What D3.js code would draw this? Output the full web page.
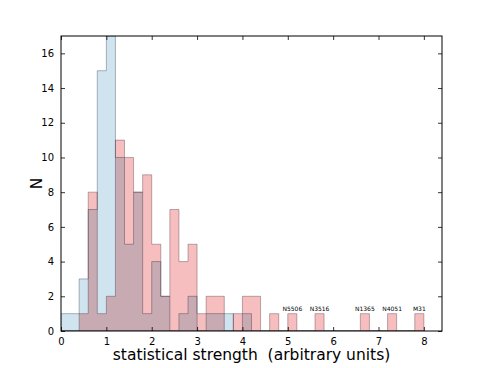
<!DOCTYPE html>
<html>
<head>
<meta charset="utf-8">
<script src="https://cdn.jsdelivr.net/npm/d3@7"></script>
<style>
    body { margin: 0; background: #fff; }
    svg { display: block; font-family: 'DejaVu Sans', sans-serif; }
</style>
</head>
<body>
<div id="container"></div>
<script>
// histogram bins (left edges, width 0.2)
const binStarts = [0.0, 0.2, 0.4, 0.6, 0.8, 1.0, 1.2, 1.4, 1.6, 1.8,
                   2.0, 2.2, 2.4, 2.6, 2.8, 3.0, 3.2, 3.4, 3.6, 3.8,
                   4.0, 4.2, 4.4, 4.6, 4.8, 5.0, 5.2, 5.4, 5.6, 5.8,
                   6.0, 6.2, 6.4, 6.6, 6.8, 7.0, 7.2, 7.4, 7.6, 7.8];
const binWidth = 0.2;
const blueCounts = [1, 1, 3, 7, 15, 17, 10, 5, 8, 1,
                    4, 2, 0, 1, 2, 0, 1, 1, 1, 0,
                    1, 0, 0, 0, 0, 0, 0, 0, 0, 0,
                    0, 0, 0, 0, 0, 0, 0, 0, 0, 0];
const redCounts = [0, 0, 1, 8, 1, 2, 11, 10, 8, 9,
                   5, 2, 7, 4, 5, 1, 2, 2, 0, 1,
                   2, 2, 0, 1, 0, 1, 0, 0, 1, 0,
                   0, 0, 0, 1, 0, 0, 1, 0, 0, 1];
const labelNames = ['N5506', 'N3516', 'N1365', 'N4051', 'M31'];
const labelBins = [5.0, 5.6, 6.6, 7.2, 7.8];
const xTicks = [0, 1, 2, 3, 4, 5, 6, 7, 8];
const yTicks = [0, 2, 4, 6, 8, 10, 12, 14, 16];

const width = 491, height = 368;
const margin = { top: 36, right: 49, bottom: 37, left: 61 };

const svg = d3.select('#container').append('svg')
    .attr('width', width)
    .attr('height', height);

const xScale = d3.scaleLinear()
    .domain([0, 8.4])
    .range([margin.left, width - margin.right]);
const yScale = d3.scaleLinear()
    .domain([0, 17])
    .range([height - margin.bottom, margin.top]);

svg.append('clipPath')
    .attr('id', 'clip')
    .append('rect')
    .attr('x', margin.left)
    .attr('y', margin.top)
    .attr('width', width - margin.left - margin.right)
    .attr('height', height - margin.top - margin.bottom);

const stepData = (counts) => {
    const pts = binStarts.map((s, i) => ({ x: s, y: counts[i] }));
    pts.push({ x: binStarts[binStarts.length - 1] + binWidth, y: counts[counts.length - 1] });
    return pts;
};

const area = d3.area()
    .curve(d3.curveStepAfter)
    .x(d => xScale(d.x))
    .y0(yScale(0))
    .y1(d => yScale(d.y));

const plot = svg.append('g').attr('clip-path', 'url(#clip)');

plot.append('path')
    .datum(stepData(blueCounts))
    .attr('d', area)
    .attr('fill', '#d0e4f0')
    .attr('stroke', 'rgba(60,70,90,0.4)')
    .attr('stroke-width', 1);

plot.append('path')
    .datum(stepData(redCounts))
    .attr('d', area)
    .attr('fill', '#f6bebe')
    .attr('stroke', 'rgba(90,60,70,0.4)')
    .attr('stroke-width', 1)
    .style('mix-blend-mode', 'multiply');

// source labels
svg.append('g').selectAll('text')
    .data(labelNames)
    .enter().append('text')
    .attr('x', (d, i) => xScale(labelBins[i] + binWidth / 2))
    .attr('y', (d, i) => yScale(redCounts[binStarts.indexOf(labelBins[i])]) - 3)
    .attr('text-anchor', 'middle')
    .attr('font-size', '6px')
    .text(d => d);

// axes with inward ticks on all sides
const tickLen = 4;
const xAxis = d3.axisBottom(xScale).tickValues(xTicks).tickSizeInner(-tickLen).tickSizeOuter(0).tickPadding(tickLen + 3);
const yAxis = d3.axisLeft(yScale).tickValues(yTicks).tickSizeInner(-tickLen).tickSizeOuter(0).tickPadding(tickLen + 3);
const xAxisTop = d3.axisTop(xScale).tickValues(xTicks).tickSizeInner(-tickLen).tickSizeOuter(0).tickFormat('');
const yAxisRight = d3.axisRight(yScale).tickValues(yTicks).tickSizeInner(-tickLen).tickSizeOuter(0).tickFormat('');

const gx = svg.append('g')
    .attr('transform', 'translate(0,' + (height - margin.bottom) + ')')
    .call(xAxis);
const gy = svg.append('g')
    .attr('transform', 'translate(' + margin.left + ',0)')
    .call(yAxis);
const gxt = svg.append('g')
    .attr('transform', 'translate(0,' + margin.top + ')')
    .call(xAxisTop);
const gyr = svg.append('g')
    .attr('transform', 'translate(' + (width - margin.right) + ',0)')
    .call(yAxisRight);

[gx, gy, gxt, gyr].forEach(g => {
    g.select('.domain').remove();
    g.selectAll('.tick line').attr('stroke', '#000').attr('stroke-width', 0.8);
    g.selectAll('.tick text').attr('font-size', '10px').attr('font-family', 'DejaVu Sans').attr('fill', '#000');
});

// frame
svg.append('rect')
    .attr('x', margin.left)
    .attr('y', margin.top)
    .attr('width', width - margin.left - margin.right)
    .attr('height', height - margin.top - margin.bottom)
    .attr('fill', 'none')
    .attr('stroke', '#000')
    .attr('stroke-width', 1);

// axis labels
svg.append('text')
    .attr('x', (margin.left + width - margin.right) / 2)
    .attr('y', 360)
    .attr('text-anchor', 'middle')
    .attr('font-size', '15.5px')
    .style('white-space', 'pre')
    .text('statistical strength  (arbitrary units)');
svg.append('text')
    .attr('text-anchor', 'middle')
    .attr('transform', 'translate(' + 42 + ',' + ((margin.top + height - margin.bottom) / 2) + ') rotate(-90)')
    .attr('font-size', '15.5px')
    .text('N');
</script>
</body>
</html>
